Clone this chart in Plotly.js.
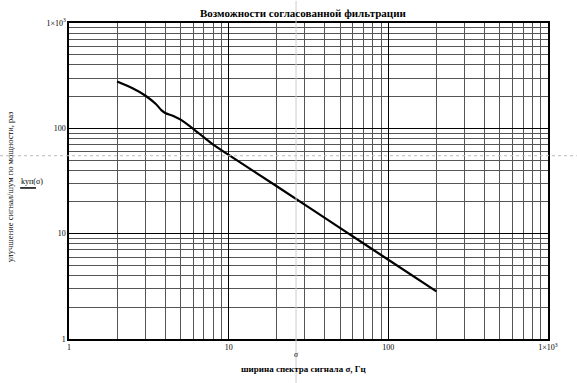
<!DOCTYPE html>
<html><head><meta charset="utf-8">
<script src="https://cdn.plot.ly/plotly-3.0.1.min.js"></script>
<style>html,body{margin:0;padding:0;background:#fff}#chart{width:577px;height:383px}</style>
</head><body><div id="chart"></div>
<script>
// Data
const sigma = [2, 2.5, 3, 3.5, 3.8, 4, 4.5, 5, 6, 7, 8, 9, 10, 20, 50, 100, 200];
const kup   = [278, 240, 205, 170, 148, 140, 131, 121, 99, 82, 70, 62, 56, 28.2, 11.3, 5.65, 2.83];
const majorTicks = [1, 10, 100, 1000];
const majorLabels = ["1", "10", "100", "1×10<sup>3</sup>"];

const minorVals = [];
for (let d = 1; d < 1000; d *= 10) for (let k = 2; k <= 9; k++) minorVals.push(k * d);

const font = {family: "Liberation Serif, Times New Roman, serif", size: 8, color: "#000"};

const axisBase = {
  type: "log",
  tickmode: "array",
  tickvals: majorTicks,
  ticktext: majorLabels,
  showgrid: true,
  gridcolor: "#000",
  gridwidth: 1.6,
  showline: true,
  linecolor: "#000",
  linewidth: 1.6,
  mirror: true,
  ticks: "",
  zeroline: false,
  tickfont: font,
  minor: {tickmode: "array", tickvals: minorVals, showgrid: true, gridcolor: "#555", gridwidth: 1, ticks: ""}
};

const trace = {
  x: sigma, y: kup, type: "scatter", mode: "lines",
  line: {color: "#000", width: 2.2, shape: "spline", smoothing: 0.6},
  hoverinfo: "none"
};

const layout = {
  width: 577, height: 383,
  margin: {l: 69, r: 29, t: 23, b: 44},
  paper_bgcolor: "#fff", plot_bgcolor: "#fff",
  showlegend: false,
  xaxis: Object.assign({}, axisBase, {range: [0, 3]}),
  yaxis: Object.assign({}, axisBase, {range: [0, 3]}),
  annotations: [
    {text: "<b>Возможности согласованной фильтрации</b>", xref: "paper", yref: "paper",
     x: 0.49, y: 1, yshift: 18, showarrow: false, font: {family: font.family, size: 11, color: "#000"}},
    {text: "улучшение сигнал/шум по мощности, раз", xref: "paper", yref: "paper",
     x: 0, xshift: -59, xanchor: "center", y: 0.48, yanchor: "middle", textangle: -90, showarrow: false,
     font: {family: font.family, size: 8.5, color: "#000"}},
    {text: "kуп(σ)", xref: "paper", yref: "paper", x: 0, xshift: -37, xanchor: "center", y: 0.5, yanchor: "middle",
     showarrow: false, font: {family: font.family, size: 8, color: "#000"}},
    {text: "<i>σ</i>", xref: "paper", yref: "paper", x: 0.474, y: 0, yshift: -22, showarrow: false,
     font: {family: font.family, size: 8, color: "#000"}},
    {text: "<b>ширина спектра сигнала σ, Гц</b>", xref: "paper", yref: "paper", x: 0.49, y: 0, yshift: -37,
     showarrow: false, font: {family: font.family, size: 9, color: "#000"}}
  ],
  shapes: [
    // crosshair artefacts of the original worksheet
    {type: "line", xref: "paper", yref: "paper", x0: -0.144, x1: 1.06, y0: 0.58, y1: 0.58,
     line: {color: "#bbb", width: 1, dash: "dot"}},
    {type: "line", xref: "paper", yref: "paper", x0: 0.474, x1: 0.474, y0: -0.14, y1: 1.07,
     line: {color: "#ccc", width: 1}},
    // underline under legend label
    {type: "line", xref: "paper", yref: "paper", x0: -0.102, x1: -0.069, y0: 0.478, y1: 0.478,
     line: {color: "#000", width: 1.5}}
  ]
};

Plotly.newPlot("chart", [trace], layout, {staticPlot: true, displayModeBar: false});
</script></body></html>
